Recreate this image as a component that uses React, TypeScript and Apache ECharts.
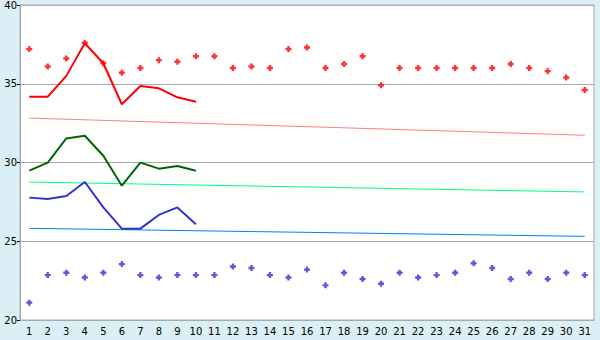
import React, { useEffect, useRef } from "react";
import * as echarts from "echarts";

const days = Array.from({ length: 31 }, (_, i) => String(i + 1));

const redDots = [37.2, 36.1, 36.6, 37.6, 36.3, 35.7, 36.0, 36.5, 36.4, 36.75, 36.75, 36.0, 36.1, 36.0, 37.2, 37.3, 36.0, 36.25, 36.75, 34.9, 36.0, 36.0, 36.0, 36.0, 36.0, 36.0, 36.25, 36.0, 35.8, 35.4, 34.6];
const blueDots = [21.1, 22.85, 23.0, 22.7, 23.0, 23.55, 22.85, 22.7, 22.85, 22.85, 22.85, 23.4, 23.3, 22.85, 22.7, 23.2, 22.2, 23.0, 22.6, 22.3, 23.0, 22.7, 22.85, 23.0, 23.6, 23.3, 22.6, 23.0, 22.6, 23.0, 22.85];
const redLine = [34.18, 34.18, 35.5, 37.57, 36.3, 33.7, 34.86, 34.71, 34.14, 33.86];
const greenLine = [29.48, 29.99, 31.53, 31.7, 30.43, 28.53, 29.99, 29.61, 29.78, 29.48];
const blueLine = [27.77, 27.68, 27.87, 28.76, 27.15, 25.8, 25.8, 26.67, 27.15, 26.08];
const redTrend = [[0, 32.82], [30, 31.73]];
const greenTrend = [[0, 28.76], [30, 28.13]];
const blueTrend = [[0, 25.82], [30, 25.31]];

const plus = "path://M1.5,0h2v1.5h1.5v2h-1.5v1.5h-2v-1.5h-1.5v-2h1.5z";

export default function App() {
  const ref = useRef<HTMLDivElement>(null);
  useEffect(() => {
    document.body.style.margin = "0";
    const chart = echarts.init(ref.current!, null, { renderer: "svg" });
    const lbl = { fontFamily: "DejaVu Sans, Verdana, sans-serif", color: "#000" };
    chart.setOption({
      animation: false,
      backgroundColor: "#DAEFF6",
      grid: {
        left: 20, right: 6, top: 5, bottom: 20,
        show: true, backgroundColor: "#ffffff", borderColor: "#aaaaaa", borderWidth: 1,
      },
      xAxis: {
        type: "category",
        data: days,
        boundaryGap: true,
        axisLine: { lineStyle: { color: "#aaaaaa" } },
        axisTick: { alignWithLabel: true, length: 5, lineStyle: { color: "#000" } },
        axisLabel: { ...lbl, fontSize: 10, margin: 6, interval: 0 },
      },
      yAxis: {
        type: "value",
        min: 20, max: 40, interval: 5,
        axisLine: { show: true, lineStyle: { color: "#aaaaaa" } },
        axisTick: { show: true, length: 3, lineStyle: { color: "#000" } },
        axisLabel: { ...lbl, fontSize: 10, margin: 3 },
        splitLine: { lineStyle: { color: "#aaaaaa" } },
      },
      series: [
        { type: "line", data: redTrend, symbol: "none", lineStyle: { color: "#FF8080", width: 1 } },
        { type: "line", data: greenTrend, symbol: "none", lineStyle: { color: "#00FF7F", width: 1 } },
        { type: "line", data: blueTrend, symbol: "none", lineStyle: { color: "#0080FF", width: 1 } },
        { type: "line", data: redLine, symbol: "none", lineStyle: { color: "#FF0000", width: 2 } },
        { type: "line", data: greenLine, symbol: "none", lineStyle: { color: "#006600", width: 2 } },
        { type: "line", data: blueLine, symbol: "none", lineStyle: { color: "#3333CC", width: 2 } },
        { type: "scatter", data: redDots, symbol: plus, symbolSize: 6, itemStyle: { color: "#FF0000" } },
        { type: "scatter", data: blueDots, symbol: plus, symbolSize: 6, itemStyle: { color: "#3333CC" } },
      ],
    });
    return () => chart.dispose();
  }, []);
  return <div ref={ref} style={{ width: 600, height: 340 }} />;
}
